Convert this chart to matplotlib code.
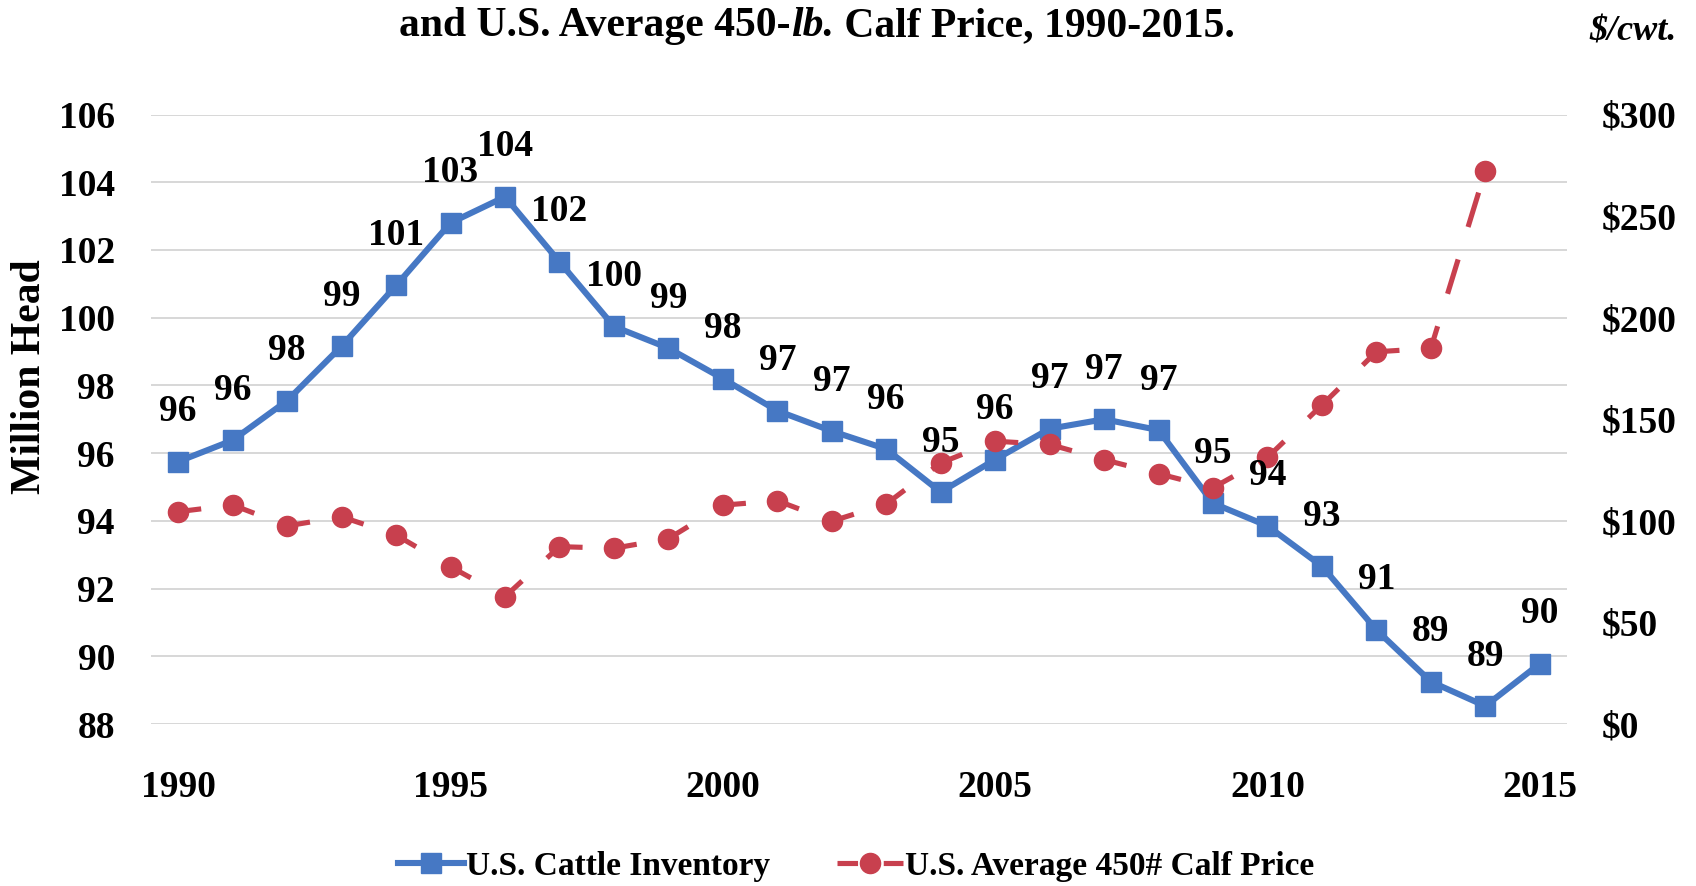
import matplotlib
matplotlib.use("Agg")
import matplotlib.pyplot as plt
from matplotlib.lines import Line2D
import numpy as np

# ---------------- data ----------------
years = list(range(1990, 2016))
cattle_inventory = [95.75, 96.38, 97.55, 99.16, 100.95, 102.80, 103.57, 101.65,
                    99.74, 99.10, 98.20, 97.25, 96.65, 96.12, 94.85, 95.81,
                    96.72, 97.00, 96.68, 94.52, 93.85, 92.66, 90.78, 89.25,
                    88.53, 89.78]
price_years = list(range(1990, 2015))
calf_price = [104.5, 107.8, 97.5, 102.0, 93.0, 77.4, 62.7, 87.3, 86.5, 91.2,
              107.7, 109.9, 99.8, 108.3, 128.5, 139.2, 137.6, 130.1, 123.2,
              116.3, 131.2, 157.0, 183.2, 184.9, 272.3]
left_ticks = [88, 90, 92, 94, 96, 98, 100, 102, 104, 106]
right_ticks = [0, 50, 100, 150, 200, 250, 300]
x_ticks = [1990, 1995, 2000, 2005, 2010, 2015]
series_names = ["U.S. Cattle Inventory", "U.S. Average 450# Calf Price"]

# ---------------- style ----------------
FONT = "Liberation Serif"
FS = 27
BLUE = "#4678C4"
RED = "#C8404E"
GRID = "#d4d4d4"
plt.rcParams["font.family"] = [FONT, "DejaVu Serif"]
plt.rcParams["font.weight"] = "bold"

W, H = 1696, 886
fig = plt.figure(figsize=(W / 100, H / 100), dpi=100)
fig.patch.set_facecolor("white")

left_px, right_px, top_px, bot_px = 151, 1567, 114.5, 724
ax = fig.add_axes([left_px / W, 1 - bot_px / H, (right_px - left_px) / W,
                   (bot_px - top_px) / H])
ax.set_xlim(1989.5, 2015.5)
ax.set_ylim(88, 106)
ax.set_yticks(left_ticks)
ax.set_yticklabels([str(t) for t in left_ticks])
ax.set_xticks(x_ticks)
ax.set_xticklabels([str(t) for t in x_ticks])
ax.tick_params(axis="both", length=0, labelsize=FS)
ax.tick_params(axis="y", pad=26)
ax.tick_params(axis="x", pad=33)
for s in ax.spines.values():
    s.set_visible(False)
ax.grid(axis="y", color=GRID, lw=1.3)
ax.set_axisbelow(True)
for lab in ax.get_xticklabels() + ax.get_yticklabels():
    lab.set_fontweight("bold")

# cattle inventory line
ax.plot(years, cattle_inventory, color=BLUE, lw=4.4, marker="s", ms=15,
        mec=BLUE, mfc=BLUE, zorder=3, solid_joinstyle="miter")

# secondary axis
ax2 = ax.twinx()
ax2.set_ylim(0, 300)
ax2.set_yticks(right_ticks)
ax2.set_yticklabels(["$%d" % t for t in right_ticks])
ax2.tick_params(axis="y", length=0, labelsize=FS, pad=25)
for lab in ax2.get_yticklabels():
    lab.set_fontweight("bold")
for s in ax2.spines.values():
    s.set_visible(False)

# calf price: dashed line (pattern restarts at each point, as in the original)
dash_ls = (2.5, (7, 6.6))
for i in range(len(price_years) - 1):
    ax2.plot(price_years[i:i + 2], calf_price[i:i + 2], color=RED, lw=3.7,
             ls=dash_ls, zorder=2)
ax2.plot(price_years, calf_price, ls="none", marker="o", ms=14.5, color=RED,
         zorder=3)

# data labels for cattle inventory (drawn on top)
for x, v in zip(years, cattle_inventory):
    ax2.annotate("%d" % int(np.floor(v + 0.5)), xy=(x, v), xycoords=ax.transData,
                 xytext=(0, 36), textcoords="offset points", ha="center",
                 va="center", fontsize=FS, fontweight="bold", color="black",
                 zorder=5)

# axis titles
fig.text(30 / W, 1 - 350 / H * 1.0816 * 0 - 377 / H, "Million Head", rotation=90,
         ha="center", va="center", fontsize=30, fontweight="bold")
fig.text(1633 / W, 1 - 32 / H, "$/cwt.", ha="center", va="center",
         fontsize=FS - 1, fontweight="bold", style="italic")

# title with italic "lb."
renderer = fig.canvas.get_renderer()
pieces = [("and U.S. Average 450-", "normal"), ("lb.", "italic"),
          (" Calf Price, 1990-2015.", "normal")]
base_y = 1 - 36 / H
texts = []
xpos = 0.0
for txt, st in pieces:
    t = fig.text(xpos, base_y, txt, ha="left", va="baseline", fontsize=30,
                 fontweight="bold", style=st)
    bb = t.get_window_extent(renderer)
    texts.append(t)
    xpos += bb.width / W
total = xpos
start = 817 / W - total / 2
for t in texts:
    x0, y0 = t.get_position()
    t.set_position((x0 + start, y0))

# legend
h1 = Line2D([], [], color=BLUE, lw=4.4, marker="s", ms=15)
h2 = Line2D([], [], color=RED, lw=3.7, ls=(0, (4, 5)), marker="o", ms=14.5)
leg = fig.legend([h1, h2], series_names, loc="center",
                 bbox_to_anchor=(856 / W, 1 - 866 / H), ncol=2, frameon=False,
                 fontsize=24, handlelength=2.0, handletextpad=0.05,
                 columnspacing=2.0, borderpad=0, borderaxespad=0)
for t in leg.get_texts():
    t.set_fontweight("bold")

fig.savefig("out.png", dpi=100, facecolor="white")
